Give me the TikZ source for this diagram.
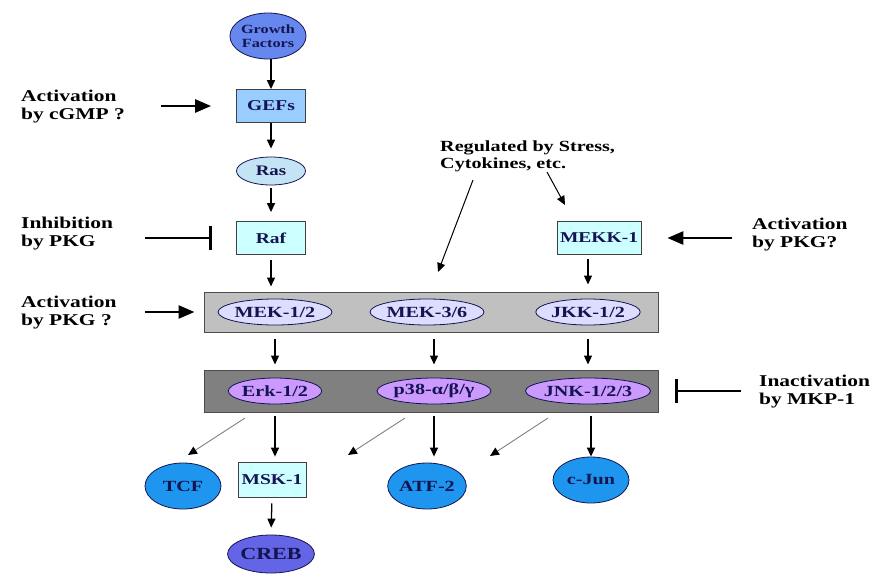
\documentclass[tikz,border=0pt]{standalone}
\usepackage{fontspec}
\setmainfont{Liberation Serif}[FakeStretch=1.3]
\usetikzlibrary{arrows.meta, shapes.geometric}

\definecolor{gfblue}{RGB}{102,136,238}
\definecolor{gefblue}{RGB}{153,204,255}
\definecolor{rasblue}{RGB}{196,228,245}
\definecolor{kincyan}{RGB}{204,255,255}
\definecolor{mekgray}{RGB}{192,192,192}
\definecolor{erkgray}{RGB}{128,128,128}
\definecolor{meklav}{RGB}{221,221,255}
\definecolor{erkviolet}{RGB}{204,153,255}
\definecolor{tfblue}{RGB}{30,150,240}
\definecolor{crebblue}{RGB}{100,100,230}
\definecolor{navytext}{RGB}{20,20,80}

\tikzset{
  kinbox/.style={draw=black!75, line width=0.8, fill=kincyan, minimum width=69, minimum height=33, inner sep=1, text=navytext, font=\fontsize{15}{17}\selectfont\bfseries},
  barbox/.style={draw=black!70, line width=1, minimum width=454, minimum height=40, inner sep=0},
  kinoval/.style={ellipse, draw=navytext, line width=0.8, minimum width=92, minimum height=26, inner sep=0, text=navytext, font=\fontsize{15.5}{17}\selectfont\bfseries},
  tfoval/.style={ellipse, draw=navytext, line width=0.8, fill=tfblue, minimum width=76, minimum height=46, inner sep=0, text=navytext, font=\fontsize{15.5}{17}\selectfont\bfseries},
  lbl/.style={anchor=west, align=left, inner sep=0, font=\fontsize{16.5}{18}\selectfont\bfseries},
  arr/.style={-{Triangle[length=9,width=8]}, line width=1.3},
  bigarr/.style={-{Triangle[length=16,width=13]}, line width=2.6},
  inhib/.style={-{Rectangle[length=3.2,width=24]}, line width=2.6},
  thinarr/.style={-{Triangle[length=9,width=8,color=black]}, draw=black!50, line width=0.9},
}

\begin{document}
\begin{tikzpicture}[x=1pt,y=1pt,yscale=-1,xscale=1]
    \path[use as bounding box] (0,0) rectangle (892,574);

    %Shape: Rectangle
    \node[barbox, fill=mekgray] (mekbar) at (431,312) {};
    \node[barbox, fill=erkgray, minimum height=42] (erkbar) at (431,391) {};

    %Shape: Ellipse
    \node[ellipse, draw=navytext, line width=0.8, fill=gfblue, minimum width=76, minimum height=46, inner sep=0, align=center, text=navytext, font=\fontsize{12.5}{13.5}\selectfont\bfseries] (gf) at (268,36) {Growth\\Factors};
    \node[kinbox, fill=gefblue] (gefs) at (271,106) {GEFs};
    \node[kinoval, fill=rasblue, minimum width=69, minimum height=28, font=\fontsize{14.5}{16}\selectfont\bfseries] (ras) at (271,171) {Ras};
    \node[kinbox] (raf) at (271,238) {Raf};
    \node[kinbox, minimum width=84] (mekk1) at (599,238) {MEKK-1};

    \node[kinoval, fill=meklav] (mek12) at (275,312) {MEK-1/2};
    \node[kinoval, fill=meklav] (mek36) at (427,312) {MEK-3/6};
    \node[kinoval, fill=meklav] (jkk12) at (588,312) {JKK-1/2};

    \node[kinoval, fill=erkviolet] (erk12) at (275,391) {Erk-1/2};
    \node[kinoval, fill=erkviolet] (p38) at (434,391) {p38-α/β/γ};
    \node[kinoval, fill=erkviolet] (jnk) at (588,391) {JNK-1/2/3};

    \node[tfoval] (tcf) at (183,486) {TCF};
    \node[kinbox, minimum width=68, minimum height=35] (msk1) at (272,479.5) {MSK-1};
    \node[tfoval, fill=crebblue, minimum width=84, minimum height=38, font=\fontsize{17}{19}\selectfont\bfseries] (creb) at (271,554) {CREB};
    \node[tfoval] (atf2) at (427,486) {ATF-2};
    \node[tfoval] (cjun) at (591,480) {c-Jun};

    % Text Node
    \node[lbl] (lblcgmp) at (21,107) {Activation\\by cGMP ?};
    \node[lbl] (lblinh) at (21,234) {Inhibition\\by PKG};
    \node[lbl] (lblpkg) at (21,313) {Activation\\by PKG ?};
    \node[lbl] (lblmekk) at (752,235) {Activation\\by PKG?};
    \node[lbl] (lblmkp) at (759,392) {Inactivation\\by MKP-1};
    \node[lbl, font=\fontsize{15.5}{17}\selectfont\bfseries] (lblreg) at (440,156) {Regulated by Stress,\\Cytokines, etc.};

    \coordinate (regA0) at (473,180);
    \coordinate (regA) at (438,272);
    \coordinate (regB0) at (547,172);
    \coordinate (regB) at (565,205);
    \coordinate (erkout) at (245,418);
    \coordinate (tcfin) at (188,455);
    \coordinate (p38out) at (405,418);
    \coordinate (p38end) at (348,455);
    \coordinate (jnkout) at (548,418);
    \coordinate (jnkend) at (490,456);

    %Straight Lines
    \draw[arr] (gefs |- gf.south) -- (gefs.north);
    \draw[arr, shorten >=8] (gefs.south) -- (ras.north);
    \draw[arr, shorten <=3, shorten >=9] (ras.south) -- (raf.north);
    \draw[arr, shorten <=5, shorten >=5] (raf.south) -- (raf |- mekbar.north);
    \draw[arr, shorten <=4, shorten >=7] (jkk12 |- mekk1.south) -- (jkk12 |- mekbar.north);

    \draw[arr, shorten <=6, shorten >=5] (mek12 |- mekbar.south) -- (mek12 |- erkbar.north);
    \draw[arr, shorten <=6, shorten >=5] (p38 |- mekbar.south) -- (p38 |- erkbar.north);
    \draw[arr, shorten <=6, shorten >=5] (jkk12 |- mekbar.south) -- (jkk12 |- erkbar.north);

    \draw[arr, shorten <=3, shorten >=5] (erk12 |- erkbar.south) -- (erk12 |- msk1.north);
    \draw[arr, shorten <=3, shorten >=6] (p38 |- erkbar.south) -- (p38 |- atf2.north);
    \draw[arr, shorten <=3] (cjun |- erkbar.south) -- (cjun.north);
    \draw[arr, shorten <=6, shorten >=7] (msk1.south) -- (creb.north);

    \draw[thinarr] (erkout) -- (tcfin);
    \draw[thinarr] (p38out) -- (p38end);
    \draw[thinarr] (jnkout) -- (jnkend);

    \draw[arr, line width=1] (regA0) -- (regA);
    \draw[arr, line width=1] (regB0) -- (regB);

    \draw[bigarr] ([xshift=-75]gefs.west) -- ([xshift=-25]gefs.west);
    \draw[inhib] ([xshift=-91]raf.west) -- ([xshift=-24]raf.west);
    \draw[bigarr] ([xshift=-59]mekbar.west) -- ([xshift=-9]mekbar.west);
    \draw[bigarr] ([xshift=91]mekk1.east) -- ([xshift=26]mekk1.east);
    \draw[inhib] ([xshift=82]erkbar.east) -- ([xshift=16]erkbar.east);

\end{tikzpicture}
\end{document}
